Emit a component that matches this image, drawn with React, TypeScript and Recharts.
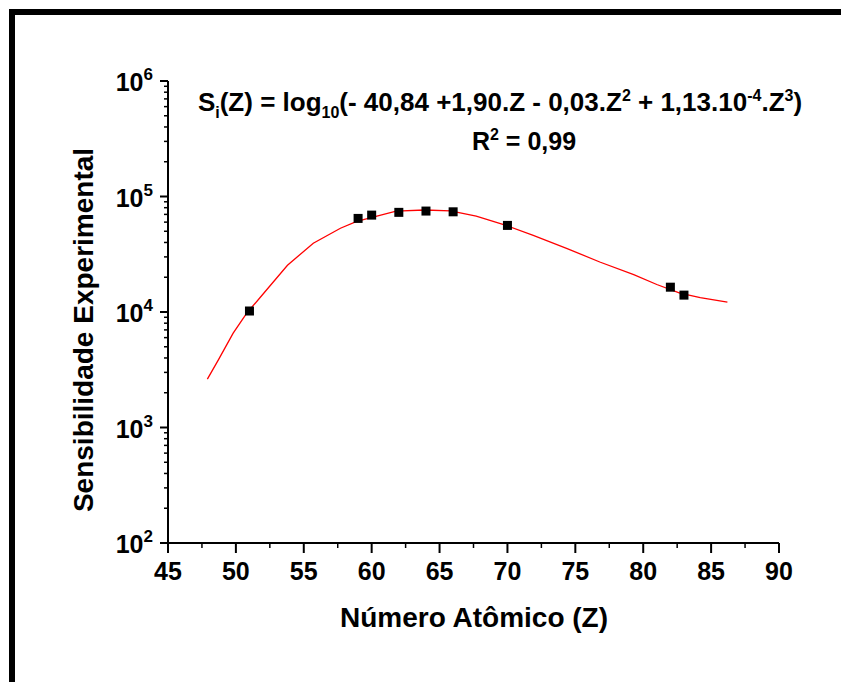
import React from 'react';
import { ComposedChart, Line, Scatter, XAxis, YAxis } from 'recharts';

// experimental points (Z, sensitivity)
const expZ = [51, 59, 60, 62, 64, 66, 70, 82, 83];
const expS = [10200, 64600, 69000, 72900, 74800, 73700, 56200, 16400, 14000];

// fitted curve
const fitZ = [47.9, 48.7, 49.8, 50.8, 51.8, 53.8, 55.7, 57.7, 58.9, 61.8, 63.9, 65.8, 67.7, 69.9, 71.9, 74.4, 76.8, 79.3, 81.0, 82.7, 84.2, 86.2];
const fitS = [2620, 3830, 6560, 9770, 13430, 25400, 39400, 53100, 61000, 74800, 76400, 75000, 67500, 56200, 46100, 35400, 27100, 21100, 17300, 14600, 13300, 12200];

const xTicks = [45, 47.5, 50, 52.5, 55, 57.5, 60, 62.5, 65, 67.5, 70, 72.5, 75, 77.5, 80, 82.5, 85, 87.5, 90];
const decades = [100, 1000, 10000, 100000];
const yTicks = [...decades.flatMap((d) => [1, 2, 3, 4, 5, 6, 7, 8, 9].map((m) => m * d)), 1000000];

const expData = expZ.map((z, i) => ({ z, s: expS[i] }));
const fitData = fitZ.map((z, i) => ({ z, s: fitS[i] }));

const FONT = '"Liberation Sans", Arial, sans-serif';

const YTick = (props: any) => {
  const { x, y, payload } = props;
  const lg = Math.log10(payload.value);
  const exp = Math.round(lg);
  const major = Math.abs(lg - exp) < 1e-6;
  return (
    <g>
      <line x1={x - (major ? 8 : 4)} x2={x} y1={y} y2={y} stroke="#000" strokeWidth={major ? 2 : 1.5} />
      {major && (
        <text x={x - 15} y={y + 10} textAnchor="end" fontFamily={FONT} fontWeight="bold" fontSize={25} fill="#000">
          10<tspan dy={-11} fontSize={17}>{exp}</tspan>
        </text>
      )}
    </g>
  );
};

const XTick = (props: any) => {
  const { x, y, payload } = props;
  const major = payload.value % 5 === 0;
  return (
    <g>
      <line x1={x} x2={x} y1={y} y2={y + (major ? 10 : 5)} stroke="#000" strokeWidth={major ? 2 : 1.5} />
      {major && (
        <text x={x} y={y + 37} textAnchor="middle" fontFamily={FONT} fontWeight="bold" fontSize={25} fill="#000">
          {payload.value}
        </text>
      )}
    </g>
  );
};

const Square = (props: any) => {
  const { cx, cy } = props;
  return <rect x={cx - 4.5} y={cy - 4.5} width={9} height={9} fill="#000" />;
};

export default function App() {
  return (
    <div style={{ position: 'absolute', left: 0, top: 0, width: 841, height: 682, background: '#fff' }}>
      <ComposedChart width={841} height={682} margin={{ top: 81, right: 62, bottom: 79, left: 0 }}>
        <XAxis
          type="number"
          dataKey="z"
          domain={[45, 90]}
          ticks={xTicks}
          interval={0}
          height={60}
          tickSize={0}
          tickMargin={0}
          tickLine={false}
          axisLine={{ stroke: '#000', strokeWidth: 2 }}
          tick={<XTick />}
        />
        <YAxis
          type="number"
          dataKey="s"
          scale="log"
          domain={[100, 1000000]}
          allowDataOverflow
          ticks={yTicks}
          interval={0}
          width={168}
          tickSize={0}
          tickMargin={0}
          tickLine={false}
          axisLine={{ stroke: '#000', strokeWidth: 2 }}
          tick={<YTick />}
        />
        <Line
          data={fitData}
          dataKey="s"
          type="linear"
          stroke="#ff0000"
          strokeWidth={1.3}
          dot={false}
          activeDot={false}
          isAnimationActive={false}
        />
        <Scatter data={expData} dataKey="s" shape={<Square />} isAnimationActive={false} />
      </ComposedChart>
      <svg width={841} height={682} style={{ position: 'absolute', left: 0, top: 0, pointerEvents: 'none' }}>
        <path d="M12,682 L12,12 L841,12" fill="none" stroke="#000" strokeWidth={6} />
        <text x={500} y={111} textAnchor="middle" fontFamily={FONT} fontWeight="bold" fontSize={26} fill="#000">
          S<tspan dy={7} fontSize={16}>i</tspan>
          <tspan dy={-7}>(Z) = log</tspan>
          <tspan dy={7} fontSize={16}>10</tspan>
          <tspan dy={-7}>(- 40,84 +1,90.Z - 0,03.Z</tspan>
          <tspan dy={-10} fontSize={16}>2</tspan>
          <tspan dy={10}> + 1,13.10</tspan>
          <tspan dy={-10} fontSize={16}>-4</tspan>
          <tspan dy={10}>.Z</tspan>
          <tspan dy={-10} fontSize={16}>3</tspan>
          <tspan dy={10}>)</tspan>
        </text>
        <text x={524} y={150} textAnchor="middle" fontFamily={FONT} fontWeight="bold" fontSize={25} fill="#000">
          R<tspan dy={-10} fontSize={16}>2</tspan>
          <tspan dy={10}> = 0,99</tspan>
        </text>
        <text x={474} y={627} textAnchor="middle" fontFamily={FONT} fontWeight="bold" fontSize={28} fill="#000">
          Número Atômico (Z)
        </text>
        <text
          x={93}
          y={330}
          transform="rotate(-90 93 330)"
          textAnchor="middle"
          fontFamily={FONT}
          fontWeight="bold"
          fontSize={28}
          fill="#000"
        >
          Sensibilidade Experimental
        </text>
      </svg>
    </div>
  );
}
